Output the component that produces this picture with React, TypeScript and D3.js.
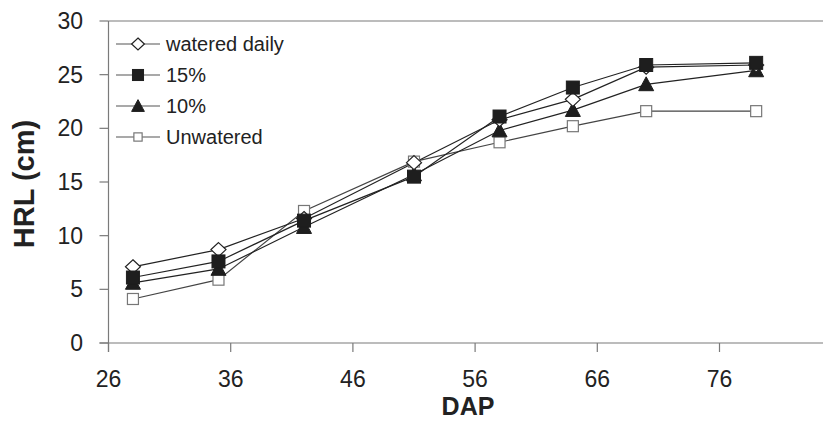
import React from "react";
import * as d3 from "d3";

const dap = [28, 35, 42, 51, 58, 64, 70, 79];
const wateredDaily = [7.1, 8.7, 11.6, 16.8, 20.8, 22.7, 25.7, 25.9];
const pct15 = [6.1, 7.6, 11.4, 15.5, 21.1, 23.8, 25.9, 26.1];
const pct10 = [5.6, 6.9, 10.8, 15.7, 19.8, 21.7, 24.1, 25.4];
const unwatered = [4.1, 5.9, 12.3, 16.9, 18.7, 20.2, 21.6, 21.6];
const seriesNames = ["watered daily", "15%", "10%", "Unwatered"];
const xTicks = [26, 36, 46, 56, 66, 76];
const yTicks = [0, 5, 10, 15, 20, 25, 30];

const W = 823;
const H = 421;
const FONT = "Liberation Sans, Arial, sans-serif";

type Kind = "diamond" | "square" | "triangle" | "open";

function Marker({ kind, x, y, s = 1 }: { kind: Kind; x: number; y: number; s?: number }) {
  if (kind === "diamond") {
    const a = 7.5 * s, b = 7 * s;
    return <path d={`M${x},${y - b}L${x + a},${y}L${x},${y + b}L${x - a},${y}Z`} fill="#fff" stroke="#222" strokeWidth={1.2} />;
  }
  if (kind === "square") {
    const a = 6.5 * s;
    return <rect x={x - a} y={y - a} width={2 * a} height={2 * a} fill="#1e1e1e" stroke="#1e1e1e" strokeWidth={1} />;
  }
  if (kind === "triangle") {
    const a = 7.5 * s;
    return <path d={`M${x},${y - a}L${x + a},${y + a * 0.85}L${x - a},${y + a * 0.85}Z`} fill="#1e1e1e" stroke="#1e1e1e" strokeWidth={1} />;
  }
  const a = 5.5 * s;
  return <rect x={x - a} y={y - a} width={2 * a} height={2 * a} fill="#fff" stroke="#777" strokeWidth={1.2} />;
}

export default function App() {
  const x = d3.scaleLinear().domain([26, 86]).range([108.5, 841.7]);
  const y = d3.scaleLinear().domain([0, 30]).range([343, 21]);
  const series: { name: string; vals: number[]; kind: Kind }[] = [
    { name: seriesNames[3], vals: unwatered, kind: "open" },
    { name: seriesNames[2], vals: pct10, kind: "triangle" },
    { name: seriesNames[0], vals: wateredDaily, kind: "diamond" },
    { name: seriesNames[1], vals: pct15, kind: "square" },
  ];
  const legend: { name: string; kind: Kind }[] = [
    { name: seriesNames[0], kind: "diamond" },
    { name: seriesNames[1], kind: "square" },
    { name: seriesNames[2], kind: "triangle" },
    { name: seriesNames[3], kind: "open" },
  ];
  const line = d3
    .line<number>()
    .x((_, i) => x(dap[i]))
    .y((v) => y(v));
  const axisColor = "#7a7a7a";
  return (
    <svg width={W} height={H} style={{ position: "absolute", left: 0, top: 0 }} fontFamily={FONT}>
      <rect width={W} height={H} fill="#fff" />
      <line x1={x(26)} x2={W} y1={y(30)} y2={y(30)} stroke={axisColor} strokeWidth={1.2} />
      <line x1={x(26)} x2={x(26)} y1={y(30)} y2={y(0) + 9} stroke={axisColor} strokeWidth={1.2} />
      {yTicks.map((t) => (
        <g key={t}>
          <line x1={x(26) - 9} x2={x(26)} y1={y(t)} y2={y(t)} stroke={axisColor} strokeWidth={1.2} />
          <text x={83} y={y(t) + 8} textAnchor="end" fontSize={23} fill="#222">
            {t}
          </text>
        </g>
      ))}
      <line x1={x(26) - 9} x2={W} y1={y(0)} y2={y(0)} stroke={axisColor} strokeWidth={1.2} />
      {xTicks.map((t) => (
        <g key={t}>
          <line x1={x(t)} x2={x(t)} y1={y(0)} y2={y(0) + 9} stroke={axisColor} strokeWidth={1.2} />
          <text x={x(t)} y={387} textAnchor="middle" fontSize={23} fill="#222">
            {t}
          </text>
        </g>
      ))}
      <text x={468} y={415} textAnchor="middle" fontSize={25} fontWeight="bold" fill="#222">
        DAP
      </text>
      <text
        transform={`translate(34,184) rotate(-90)`}
        textAnchor="middle"
        fontSize={29}
        fontWeight="bold"
        fill="#222"
      >
        HRL (cm)
      </text>
      {series.map((s) => (
        <path key={s.name} d={line(s.vals) || ""} fill="none" stroke={s.kind === "open" ? "#444" : "#222"} strokeWidth={1.2} />
      ))}
      {series.map((s) => (
        <g key={s.name + "m"}>
          {s.vals.map((v, i) => (
            <Marker key={i} kind={s.kind} x={x(dap[i])} y={y(v)} />
          ))}
        </g>
      ))}
      {legend.map((l, i) => {
        const cy = 44 + i * 31;
        return (
          <g key={l.name}>
            <line x1={116} x2={160} y1={cy} y2={cy} stroke="#555" strokeWidth={1.2} />
            <Marker kind={l.kind} x={138} y={cy} s={l.kind === "open" ? 0.75 : 0.85} />
            <text x={166} y={cy + 7} fontSize={20} fill="#222">
              {l.name}
            </text>
          </g>
        );
      })}
    </svg>
  );
}
